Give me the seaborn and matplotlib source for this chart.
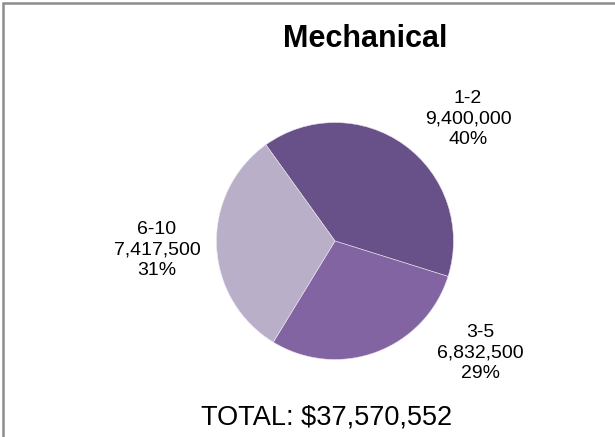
import numpy as np
import pandas as pd
import seaborn as sns
import matplotlib.pyplot as plt
from matplotlib.patches import Rectangle

# data
groups = ["1-2", "3-5", "6-10"]
amounts = [9400000, 6832500, 7417500]
total_text = "TOTAL: $37,570,552"
colors = ["#685088", "#8264a2", "#b9afc8"]

df = pd.DataFrame({"group": groups, "amount": amounts})
df["pct"] = df["amount"] / df["amount"].sum() * 100

sns.set_theme(style="white")
plt.rcParams["font.family"] = ["Liberation Sans", "DejaVu Sans"]

W, H = 615, 437
fig = plt.figure(figsize=(W / 100, H / 100), dpi=100)
fig.patch.set_facecolor("white")

# pie axes: centre (335, 241) px, radius ~118.5 px
cx, cy, r = 335, 241, 118.5
ax = fig.add_axes([(cx - r) / W, (H - cy - r) / H, 2 * r / W, 2 * r / H])
ax.pie(df["amount"], colors=colors, startangle=125.7, counterclock=False,
       radius=1, wedgeprops=dict(linewidth=0.4, edgecolor="#e8e4ee"))
ax.set_xlim(-1, 1)
ax.set_ylim(-1, 1)
ax.set_aspect("equal")
ax.axis("off")

def px(x, y):
    return x / W, 1 - y / H

# data labels (category, value, percent)
label_pos = {"1-2": (468, 119), "3-5": (480, 353), "6-10": (157, 250)}
for _, row in df.iterrows():
    txt = f"{row['group']}\n{row['amount']:,.0f}\n{row['pct']:.0f}%"
    x, y = px(*label_pos[row["group"]])
    fig.text(x, y, txt, ha="center", va="center", multialignment="center",
             fontsize=14, linespacing=1.25, color="black")

fig.text(*px(365, 39), "Mechanical", ha="center", va="center",
         fontsize=22, fontweight="bold", color="black")
fig.text(*px(327, 418), total_text, ha="center", va="center",
         fontsize=19.5, color="black")

# chart frame (only left and top edges visible)
fig.add_artist(Rectangle((2.8 / W, -0.05), 1.1, 1.05 - 3 / H,
                         transform=fig.transFigure, fill=False,
                         edgecolor="#8c8c8c", linewidth=1.8))

fig.savefig("out.png", dpi=100)
